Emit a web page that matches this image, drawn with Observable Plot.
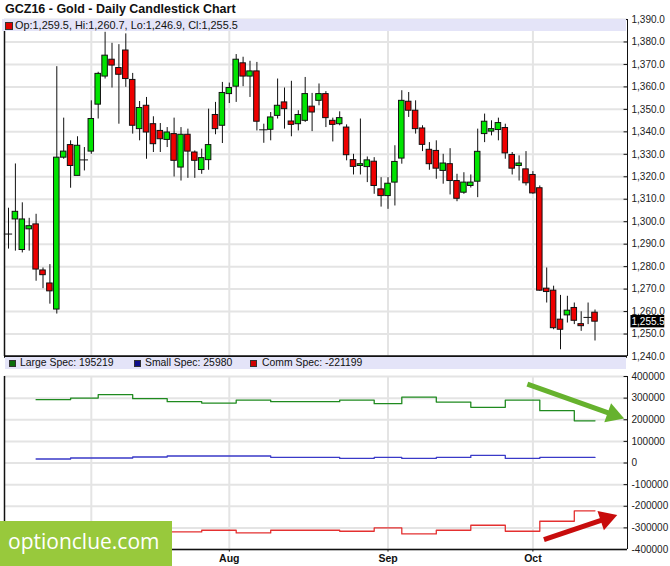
<!DOCTYPE html>
<html>
<head>
<meta charset="utf-8">
<script src="https://cdn.jsdelivr.net/npm/d3@7"></script>
<script src="https://cdn.jsdelivr.net/npm/@observablehq/plot@0.6"></script>
<style>
  html, body { margin: 0; padding: 0; background: #fff; overflow: hidden; }
  #wrap { position: relative; width: 670px; height: 566px; font-family: "Liberation Sans", Arial, sans-serif; color: #111; }
  #title { position: absolute; left: 5px; top: 2px; font-weight: bold; font-size: 12.5px; white-space: nowrap; }
  .panel { position: absolute; left: 0; }
  .band { position: absolute; height: 12px; background: #e4e4f8; font-size: 10.4px; line-height: 12px; white-space: nowrap; }
  .sw { position: absolute; top: 3px; width: 5px; height: 5px; border: 1px solid #333; }
  .lt { position: absolute; top: 0; }
  #wm { position: absolute; left: 0; top: 521px; width: 172px; height: 45px; background: #98c93c; color: #fff;
        font-family: "Open Sans", "Liberation Sans", sans-serif; font-size: 21px; line-height: 45px; }
  #wm span { position: absolute; left: 8px; top: 5px; line-height: 30px; }
</style>
</head>
<body>
<div id="wrap">
  <div id="title">GCZ16 - Gold - Daily Candlestick Chart</div>
  <div id="topPanel" class="panel" style="top:17px"></div>
  <div id="botPanel" class="panel" style="top:356px"></div>
  <div class="band" style="left:2px; top:19px; width:624px;">
    <div class="sw" style="left:3px; top:2.5px; width:6px; height:6px; background:#e00000;"></div>
    <div class="lt" style="left:13px; font-size:10.9px;" id="ohlcText"></div>
  </div>
  <div class="band" style="left:5px; top:357px; width:621px;" id="cotBand"></div>
  <div id="wm"><span>optionclue.com</span></div>
</div>
<script>
// ---------- data ----------
const open  = [1294.5,1301.0,1287.4,1296.6,1298.8,1278.3,1272.5,1260.9,1328.5,1334.1,1320.4,1327.5,1331.2,1352.1,1364.6,1372.1,1368.4,1376.2,1363.1,1341.2,1351.6,1343.4,1340.4,1336.4,1339.0,1324.1,1338.7,1330.8,1323.0,1327.4,1347.5,1342.7,1356.8,1360.1,1370.5,1364.6,1366.9,1340.9,1340.9,1347.1,1353.1,1344.6,1343.4,1344.9,1351.2,1353.8,1356.8,1344.9,1343.4,1341.9,1327.4,1324.8,1324.3,1326.7,1314.4,1311.4,1317.4,1328.1,1353.4,1349.4,1341.5,1332.0,1331.5,1322.6,1325.6,1318.1,1312.9,1315.9,1317.8,1339.0,1340.1,1340.8,1341.7,1329.7,1324.8,1323.3,1320.8,1314.9,1270.2,1269.3,1256.4,1258.3,1261.6,1254.4,1257.4,1259.5];
const high  = [1306.0,1325.7,1308.4,1301.5,1303.3,1279.4,1280.9,1369.0,1346.1,1336.0,1337.8,1333.0,1353.8,1366.5,1384.3,1379.4,1378.8,1383.6,1366.0,1353.5,1355.3,1346.7,1343.7,1341.9,1346.1,1341.9,1341.2,1331.5,1332.3,1350.1,1353.1,1362.0,1361.7,1374.4,1373.2,1371.4,1370.9,1343.4,1348.6,1363.5,1359.5,1362.5,1349.4,1364.2,1357.1,1361.3,1357.9,1346.1,1348.9,1343.1,1330.0,1345.7,1328.8,1328.5,1319.6,1319.6,1333.8,1358.3,1357.5,1353.8,1342.7,1335.2,1336.0,1330.0,1332.5,1321.1,1321.8,1320.8,1341.2,1347.9,1344.9,1346.1,1343.4,1330.8,1329.3,1331.2,1322.3,1315.9,1279.4,1271.3,1267.2,1266.8,1263.8,1259.9,1263.8,1260.7];
const low   = [1287.8,1286.9,1286.1,1286.9,1273.5,1270.2,1263.3,1258.9,1327.8,1314.9,1320.4,1322.6,1330.0,1345.7,1363.5,1359.5,1343.4,1359.8,1339.0,1336.0,1327.8,1330.8,1330.8,1333.0,1319.9,1318.1,1319.3,1319.3,1321.1,1322.9,1338.7,1334.8,1352.6,1353.1,1360.1,1355.3,1340.4,1334.9,1336.0,1345.7,1341.2,1337.8,1340.4,1344.2,1340.1,1351.6,1341.9,1335.5,1342.7,1327.1,1320.8,1320.8,1317.4,1312.2,1306.5,1305.5,1307.0,1325.6,1346.4,1339.0,1331.2,1322.9,1318.9,1316.7,1311.9,1308.9,1312.2,1315.0,1310.7,1335.2,1338.2,1336.0,1327.8,1320.8,1318.1,1315.9,1312.2,1269.0,1263.8,1251.9,1243.0,1254.9,1254.2,1251.2,1254.2,1246.9];
const close = [1294.5,1304.4,1301.0,1298.0,1278.7,1276.2,1269.0,1328.5,1331.2,1324.8,1333.8,1327.5,1345.7,1365.8,1373.9,1369.5,1365.4,1363.5,1342.7,1350.6,1339.7,1334.5,1336.7,1339.7,1327.1,1338.7,1331.2,1327.1,1328.3,1334.1,1341.2,1357.3,1359.5,1372.1,1364.6,1366.9,1344.5,1340.9,1346.4,1351.6,1350.1,1343.1,1347.5,1356.8,1348.6,1356.8,1346.1,1343.1,1346.1,1329.6,1324.4,1325.6,1327.3,1315.9,1311.4,1316.9,1326.6,1353.8,1349.4,1341.2,1334.2,1325.6,1323.6,1325.9,1318.1,1310.2,1317.4,1317.4,1331.1,1344.5,1341.2,1343.9,1330.4,1323.6,1325.9,1317.1,1312.6,1269.3,1268.7,1252.6,1251.9,1260.4,1255.9,1253.5,1257.4,1255.5];

const priceTicks = [1240,1250,1260,1270,1280,1290,1300,1310,1320,1330,1340,1350,1360,1370,1380,1390];
const monthGrid  = [12, 32, 55, 76];          // first trading day of Jul, Aug, Sep, Oct
const monthTicks = [32, 55, 76];
const monthLabels = ["Aug", "Sep", "Oct"];

// weekly COT net positions (step changes on trading-day index)
const cotIdx    = [4, 9, 13, 18, 23, 28, 33, 38, 43, 48, 53, 57, 62, 67, 72, 77, 82, 85];
const largeSpec = [292800,300200,316000,297500,283600,277100,291000,283600,283600,291000,274300,304800,281800,257300,291000,242000,195219,195219];
const smallSpec = [18500,23100,23100,27700,32300,32300,32300,26300,26300,21000,26000,21000,26000,35000,21000,26000,25980,25980];
const commSpec  = [-311300,-323300,-339100,-325200,-318700,-310900,-323300,-310900,-310900,-315500,-300200,-327900,-310900,-287800,-315500,-269300,-221199,-221199];
const cotTicks  = [-400000,-300000,-200000,-100000,0,100000,200000,300000,400000];

// annotation arrows (data coordinates: [index, value])
const arrowSeries = ["green", "red"];
const arrowFrom = [[75.2, 365000], [77.6, -354000]];
const arrowTo   = [[89.0, 208000], [88.0, -243000]];
const arrowColor = ["#66b22e", "#c80c0c"];

// ---------- layout / style ----------
const W = 670;
const xDomain = [-0.58, 89.71];
const FONT = '"Liberation Sans", Arial, sans-serif';
const GRID = "#e4e4e4";
const INK = "#111";

const candles = open.map((o, i) => ({i, open: o, high: high[i], low: low[i], close: close[i]}));
const bodies = candles.filter(d => Math.abs(d.close - d.open) > 0.05);
const dojis  = candles.filter(d => Math.abs(d.close - d.open) <= 0.05);
const last = candles[candles.length - 1];
const fmtPrice = d3.format(",.1f");

document.getElementById("ohlcText").textContent =
  `Op:${fmtPrice(last.open)}, Hi:${fmtPrice(last.high)}, Lo:${fmtPrice(last.low)}, Cl:${fmtPrice(last.close)}`;

const topH = 340, topMT = 2, topMB = 1;
const topPlot = Plot.plot({
  width: W, height: topH,
  marginTop: topMT, marginBottom: topMB, marginLeft: 4, marginRight: W - 627,
  style: {fontFamily: FONT, fontSize: "10px", color: "#222", background: "transparent", overflow: "visible"},
  x: {domain: xDomain, axis: null},
  y: {domain: [1240, 1390], axis: "right", ticks: priceTicks, tickFormat: fmtPrice, tickSize: 0, tickPadding: 4, label: null},
  marks: [
    Plot.ruleY(priceTicks, {stroke: GRID, strokeWidth: 2}),
    Plot.ruleX(monthGrid, {stroke: GRID, strokeWidth: 2}),
    Plot.ruleX(candles, {x: "i", y1: "low", y2: "high", stroke: INK, strokeWidth: 1}),
    Plot.rect(bodies, {
      x1: d => d.i - 0.4, x2: d => d.i + 0.4, y1: "open", y2: "close",
      fill: d => d.close > d.open ? "#00e400" : "#ee0000", stroke: INK, strokeWidth: 1
    }),
    Plot.ruleY(dojis, {y: "open", x1: d => d.i - 0.6, x2: d => d.i + 0.6, stroke: INK, strokeWidth: 1}),
    // inward ticks on the right axis
    Plot.ruleY(priceTicks, {x1: xDomain[1] - 0.5, x2: xDomain[1], stroke: INK}),
    // frame lines
    Plot.ruleX([xDomain[0]], {stroke: INK, strokeWidth: 1.5}),
    Plot.ruleX([xDomain[1]], {stroke: INK, strokeWidth: 1}),
    Plot.ruleY([1240], {stroke: INK, strokeWidth: 2.5}),
    // last-price tag
    Plot.rect([last], {x1: xDomain[1] + 0.5, x2: xDomain[1] + 5.4, y1: d => d.close - 2.75, y2: d => d.close + 2.75, fill: "#000"}),
    Plot.text([last], {x: xDomain[1], y: "close", text: d => fmtPrice(d.close), dx: 4, textAnchor: "start", fill: "#fff", fontSize: 10})
  ]
});
document.getElementById("topPanel").appendChild(topPlot);

// ---------- COT panel ----------
const botH = 210, botMT = 20, botMB = 17;
const cotSeries = [
  {name: "Large Spec", values: largeSpec, color: "#1f8a1f", sw: "#0a6e0a"},
  {name: "Small Spec", values: smallSpec, color: "#3a3ac8", sw: "#10108a"},
  {name: "Comm Spec",  values: commSpec,  color: "#e43030", sw: "#d00000"}
];
const cotRows = cotSeries.flatMap(s => s.values.map((v, k) => ({series: s.name, i: cotIdx[k], v, color: s.color})));

// pixel geometry for arrowheads
const pxX = (627 - 4) / (xDomain[1] - xDomain[0]);
const pxY = (botH - botMT - botMB) / 800000;
const arrows = arrowSeries.map((name, k) => {
  const [x0, y0] = arrowFrom[k], [x1, y1] = arrowTo[k];
  const dxp = (x1 - x0) * pxX, dyp = -(y1 - y0) * pxY;
  const len = Math.hypot(dxp, dyp);
  const back = 10 / len;               // head centroid sits ~10px behind the tip
  return {
    name, color: arrowColor[k], x0, y0,
    hx: x1 - (x1 - x0) * back, hy: y1 - (y1 - y0) * back,
    rot: Math.atan2(dxp, -dyp) * 180 / Math.PI
  };
});

const botPlot = Plot.plot({
  width: W, height: botH,
  marginTop: botMT, marginBottom: botMB, marginLeft: 4, marginRight: W - 627,
  style: {fontFamily: FONT, fontSize: "10px", color: "#222", background: "transparent", overflow: "visible"},
  x: {domain: xDomain, axis: null},
  y: {domain: [-400000, 400000], axis: "right", ticks: cotTicks, tickFormat: d => String(d), tickSize: 0, tickPadding: 4, label: null},
  marks: [
    Plot.ruleY(cotTicks, {stroke: GRID, strokeWidth: 2}),
    Plot.ruleX(monthGrid, {stroke: GRID, strokeWidth: 2}),
    Plot.line(cotRows, {x: "i", y: "v", z: "series", stroke: "color", curve: "step-after", strokeWidth: 1.3}),
    Plot.ruleY(cotTicks, {x1: xDomain[1] - 0.5, x2: xDomain[1], stroke: INK}),
    Plot.ruleX([xDomain[0]], {stroke: INK, strokeWidth: 1.5}),
    Plot.ruleX([xDomain[1]], {stroke: INK, strokeWidth: 1}),
    Plot.ruleY([-400000], {stroke: INK, strokeWidth: 1.5}),
    Plot.ruleX(monthTicks, {y1: -400000, y2: -412000, stroke: INK}),
    Plot.text(monthTicks, {x: d => d, y: -400000, text: (d, k) => monthLabels[k], dy: 9, fontWeight: "bold", fontSize: 10.5, fill: "#111"}),
    // arrows
    Plot.link(arrows, {x1: "x0", y1: "y0", x2: "hx", y2: "hy", stroke: "color", strokeWidth: 5}),
    Plot.dot(arrows, {x: "hx", y: "hy", symbol: "triangle", r: 7.5, fill: "color", stroke: "none", rotate: "rot"})
  ]
});
document.getElementById("botPanel").appendChild(botPlot);

// COT legend
const band = document.getElementById("cotBand");
const legendPos = [[4, 15], [129, 140], [245, 257]];
const lastVals = cotSeries.map(s => s.values[s.values.length - 1]);
cotSeries.forEach((s, k) => {
  const sq = document.createElement("div");
  sq.className = "sw"; sq.style.left = legendPos[k][0] + "px"; sq.style.background = s.sw;
  band.appendChild(sq);
  const t = document.createElement("div");
  t.className = "lt"; t.style.left = legendPos[k][1] + "px";
  t.textContent = `${s.name}: ${lastVals[k]}`;
  band.appendChild(t);
});
</script>
</body>
</html>
